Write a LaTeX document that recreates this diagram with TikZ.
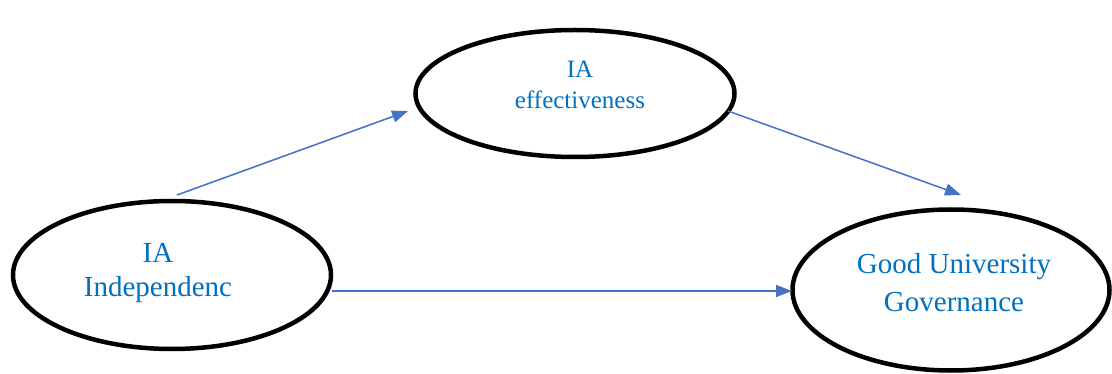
\documentclass[tikz,border=0pt]{standalone}
\usepackage{fontspec}
\setmainfont{Liberation Serif}
\usetikzlibrary{shapes.geometric,arrows.meta}
\definecolor{txtblue}{RGB}{0,112,192}
\definecolor{arrblue}{RGB}{68,114,196}
\tikzset{
  oval/.style={draw=black,line width=4.5pt,ellipse,inner sep=0pt,fill=none},
  lbl/.style={text=txtblue,anchor=base,inner sep=0pt},
  big/.style={lbl,font=\fontsize{29}{34}\selectfont},
  small/.style={lbl,font=\fontsize{25}{30}\selectfont},
  conn/.style={draw=arrblue,line width=1.5pt,-{Triangle[length=16pt,width=12pt]}}
}
\begin{document}
\begin{tikzpicture}[x=1pt,y=-1pt]
\useasboundingbox (0,0) rectangle (1112,374);
% ellipses
\node[oval,minimum width=318pt,minimum height=148pt] (indep) at (172,275) {};
\node[oval,minimum width=319pt,minimum height=127pt] (eff) at (575,93.5) {};
\node[oval,minimum width=317pt,minimum height=161pt] (gug) at (951,290) {};
% labels
\node[big] (indep1) at (158,263) {IA};
\node[big] (indep2) at (158,297) {Independenc};
\node[small] (eff1) at (580,78) {IA};
\node[small] (eff2) at (580,109) {effectiveness};
\node[big] (gug1) at (954,274) {Good University};
\node[big] (gug2) at (954,312) {Governance};
% connector end points
\coordinate (a1) at (177,195);
\coordinate (a2) at (408,111);
\coordinate (b1) at (728,111);
\coordinate (b2) at (961,195);
\coordinate (c1) at (332,291);
\coordinate (c2) at (792,291);
\draw[conn] (a1) -- (a2);
\draw[conn] (b1) -- (b2);
\draw[conn] (c1) -- (c2);
\end{tikzpicture}
\end{document}
